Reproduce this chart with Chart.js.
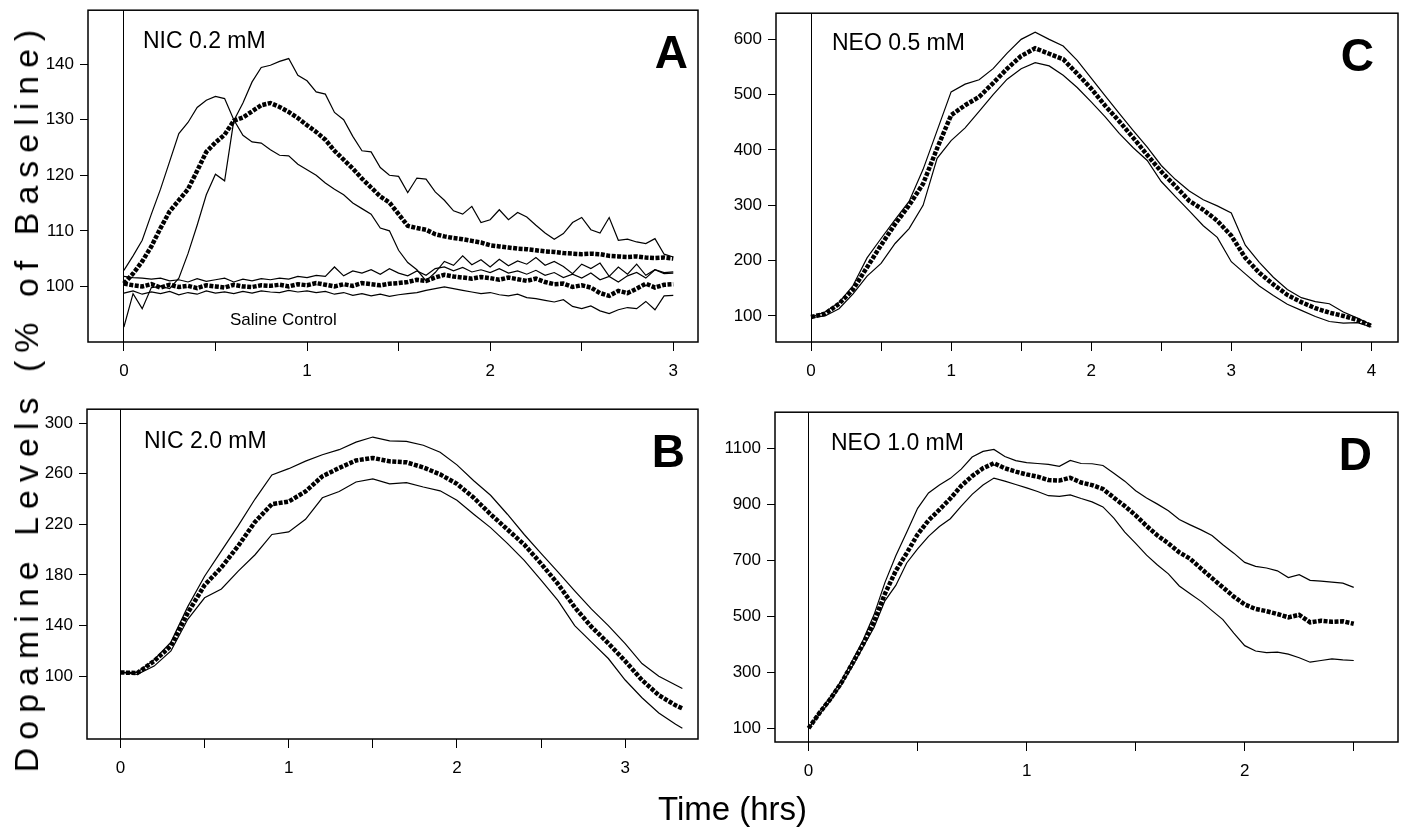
<!DOCTYPE html>
<html><head><meta charset="utf-8">
<script src="https://cdn.jsdelivr.net/npm/chart.js@4.4.0/dist/chart.umd.min.js"></script>
<style>
html,body{margin:0;padding:0;background:#fff;width:1404px;height:831px;overflow:hidden;position:relative;font-family:"Liberation Sans",Arial,sans-serif;}
canvas{position:absolute;}
.t{position:absolute;white-space:nowrap;color:#000;line-height:1;}
.cond{font-size:23px;}
.let{font-size:46px;font-weight:bold;text-align:right;}
</style></head><body>
<canvas id="cA"></canvas>
<canvas id="cB"></canvas>
<canvas id="cC"></canvas>
<canvas id="cD"></canvas>
<div class="t cond" style="left:143px;top:28.5px;">NIC 0.2 mM</div>
<div class="t cond" style="left:832px;top:30.5px;">NEO 0.5 mM</div>
<div class="t cond" style="left:144px;top:428.5px;">NIC 2.0 mM</div>
<div class="t cond" style="left:831px;top:430.5px;">NEO 1.0 mM</div>
<div class="t" style="left:230px;top:310.6px;font-size:17px;">Saline Control</div>
<div class="t let" style="right:716px;top:29px;">A</div>
<div class="t let" style="right:719px;top:428px;">B</div>
<div class="t let" style="right:30px;top:32px;">C</div>
<div class="t let" style="right:32px;top:431px;">D</div>
<div class="t" id="xtitle" style="left:658px;top:791.5px;font-size:33px;">Time (hrs)</div>
<div class="t" id="ytitle" style="left:26px;top:397px;font-size:34px;letter-spacing:8px;transform:translate(-50%,-50%) rotate(-90deg);">Dopamine Levels (% of Baseline)</div>
<script>
// ---------- Panel A: NIC 0.2 mM and saline control ----------
const tA = [0,0.05,0.1,0.15,0.2,0.25,0.3,0.35,0.4,0.45,0.5,0.55,0.6,0.65,0.7,0.75,0.8,0.85,0.9,0.95,1,1.05,1.1,1.15,1.2,1.25,1.3,1.35,1.4,1.45,1.5,1.55,1.6,1.65,1.7,1.75,1.8,1.85,1.9,1.95,2,2.05,2.1,2.15,2.2,2.25,2.3,2.35,2.4,2.45,2.5,2.55,2.6,2.65,2.7,2.75,2.8,2.85,2.9,2.95,3];
const nicEarly = [102.9,105.5,108.3,113.0,117.5,122.5,127.5,129.5,132.2,133.5,
  134.2,133.8,130.0,127.2,126.0,125.8,124.6,123.6,123.5,122.0,
  121.0,120.0,118.6,117.5,116.5,115.0,114.0,113.0,110.5,110.0,
  106.5,104.3,103.0,101.0,102.5,104.5,103.8,105.5,103.9,104.8,
  103.5,104.9,103.7,104.6,104.0,105.2,103.8,104.5,103.6,102.3,
  104.0,103.2,104.2,101.8,103.5,102.2,104.0,102.0,103.0,102.5,102.6];
const nicLate = [92.7,98.7,96.0,99.8,100.0,99.6,101.5,105.9,111.0,116.5,
  120.2,119.0,129.8,133.0,136.8,139.4,139.8,140.5,141.0,138.0,
  137.0,135.0,134.6,131.3,130.0,127.0,124.4,124.2,121.4,120.0,
  119.8,116.9,119.5,119.3,117.0,115.5,113.6,113.0,114.4,111.5,
  112.0,113.8,112.0,113.3,112.5,111.0,109.6,108.5,109.5,111.5,
  112.4,110.2,109.6,112.4,108.3,108.5,108.0,107.7,108.6,105.8,105.3];
const nicMean = [100.5,102.3,104.5,107.2,110.5,113.5,115.5,117.5,120.8,124.2,
  125.9,127.3,129.8,130.4,131.5,132.6,133.0,132.3,131.4,130.3,
  129.0,127.8,126.4,124.4,122.8,121.2,119.4,117.8,116.2,115.1,
  113.0,110.9,110.5,110.2,109.4,109.0,108.7,108.5,108.2,107.9,
  107.4,107.2,107.0,106.8,106.7,106.5,106.3,106.2,106.0,105.9,
  105.8,105.9,105.8,105.5,105.4,105.3,105.4,105.2,105.1,105.2,105.0];
const salMean = [100.5,100.2,100.0,100.4,99.8,100.3,99.9,100.1,99.7,100.2,
  100.0,99.8,100.3,100.0,99.9,100.2,100.1,100.3,100.0,100.4,
  100.2,100.6,100.3,100.0,100.4,100.1,100.6,100.4,100.2,100.5,
  100.6,100.8,101.2,101.0,101.6,102.1,101.8,101.6,101.4,101.7,
  101.5,101.2,101.6,101.3,101.0,101.4,100.8,100.4,100.5,99.9,
  100.2,99.8,98.8,98.3,99.2,98.8,99.6,100.5,99.8,100.3,100.4];
const salUpper = [101.8,101.6,101.5,101.3,101.5,101.0,101.2,100.8,101.4,100.9,
  101.2,101.5,100.8,101.3,101.0,101.4,101.2,101.5,101.3,101.8,
  101.6,102.0,101.8,103.5,101.9,102.8,102.4,103.0,102.2,103.2,
  102.4,101.9,102.8,102.0,103.2,103.5,102.8,103.4,102.6,103.0,
  102.5,103.2,102.4,102.8,102.2,102.9,102.0,102.5,101.6,102.2,
  101.5,102.4,101.2,101.8,100.8,101.9,102.5,101.5,103.0,102.3,102.4];
const salLower = [98.8,99.2,98.6,99.0,98.7,99.1,98.5,98.9,98.6,99.2,
  98.8,99.0,98.7,99.1,98.8,99.2,99.0,98.9,99.3,99.0,
  99.2,98.9,99.1,98.6,98.9,98.4,98.7,98.3,98.6,98.2,
  98.5,98.7,98.9,99.3,99.6,99.9,99.6,99.3,99.0,98.7,
  98.9,98.5,98.3,98.6,98.0,97.8,97.5,97.2,97.6,96.4,
  96.0,96.5,95.6,95.1,95.8,96.2,96.0,97.3,95.8,98.3,98.4];
const xTicksA = [0,0.5,1,1.5,2,2.5,3];
const yTicksA = [100,110,120,130,140];

// ---------- Panel B: NIC 2.0 mM ----------
const tB = [0,0.1,0.2,0.3,0.4,0.5,0.6,0.7,0.8,0.9,1,1.1,1.2,1.3,1.4,1.5,1.6,1.7,1.8,1.9,2,2.1,2.2,2.3,2.4,2.5,2.6,2.7,2.8,2.9,3,3.1,3.2,3.3,3.34];
const bMean = [103,102.5,112,124,150,172,186,203,222,236,238,246,258,264.6,270.5,272.5,269.8,269,265,259.5,252,241,228,216,204,189,173,154.5,139,126,112,97,85,77,74.6];
const bUpper = [103,103,113,127,155,179,199,219,240,259,264,270,275,279,285,289,286,285.5,282.5,277,267,254.5,243,228,212,197,182.5,167.5,153,140,125.7,110,100,93,90.3];
const bLower = [103,101.5,108,120,145,162,169,183,196,212,214,224,241,246,253.5,256,252,253,249.5,246.5,239,228,217.4,205,191.5,176,160,140,127,114,97,83,71,62,58.9];
const xTicksB = [0,0.5,1,1.5,2,2.5,3];
const yTicksB = [100,140,180,220,260,300];

// ---------- Panel C: NEO 0.5 mM ----------
const tC = [0,0.1,0.2,0.3,0.4,0.5,0.6,0.7,0.8,0.9,1,1.1,1.2,1.3,1.4,1.5,1.6,1.7,1.8,1.9,2,2.1,2.2,2.3,2.4,2.5,2.6,2.7,2.8,2.9,3,3.1,3.2,3.3,3.4,3.5,3.6,3.7,3.8,3.9,4];
const cMean = [98,104,122,148,188,228,266,300,339,403,463,481,496,521,547,570,584,574,564,538,511,480,452,422,391,361,335,308,292,272,245,205,178,157,138,125,114,106,100,93,82];
const cUpper = [98,107,124,155,205,240,274,307,365,435,505,519,527,547,575,600,613,600,588,562,530,498,466,435,405,372,347,326,310,299,286,228,197,170,148,133,126,122,107,96,84];
const cLower = [97,100,113,140,172,195,231,258,300,385,417,440,470,500,528,547,558,552,535,513,487,460,430,404,381,343,316,290,263,242,198,176,154,137,121,110,99,90,87,88,80];
const xTicksC = [0,0.5,1,1.5,2,2.5,3,3.5,4];
const yTicksC = [100,200,300,400,500,600];

// ---------- Panel D: NEO 1.0 mM ----------
const tD = [0,0.05,0.1,0.15,0.2,0.25,0.3,0.35,0.4,0.45,0.5,0.55,0.6,0.65,0.7,0.75,0.8,0.85,0.9,0.95,1,1.05,1.1,1.15,1.2,1.25,1.3,1.35,1.4,1.45,1.5,1.55,1.6,1.65,1.7,1.75,1.8,1.85,1.9,1.95,2,2.05,2.1,2.15,2.2,2.25,2.3,2.35,2.4,2.45,2.5];
const dMean = [100,155,205,262,330,400,480,580,662,725,
  792,842,880,920,965,1000,1028,1046,1028,1016,
  1006,998,986,984,994,977,968,954,923,893,
  860,822,788,760,728,705,670,636,603,570,
  542,526,518,508,496,505,478,484,480,482,473];
const dUpper = [100,160,212,270,340,415,505,620,716,800,
  885,940,968,992,1025,1068,1088,1095,1070,1055,
  1048,1045,1042,1035,1056,1045,1044,1038,1010,982,
  948,922,900,876,845,826,808,788,755,725,
  692,678,672,662,638,648,628,625,622,618,603];
const dLower = [100,150,198,255,320,390,460,555,610,690,
  740,785,820,848,893,935,968,993,982,970,
  958,945,930,928,933,920,908,890,850,800,
  760,718,683,651,608,580,553,520,488,440,
  395,376,370,372,365,352,336,342,348,344,342];
const xTicksD = [0,0.5,1,1.5,2,2.5];
const yTicksD = [100,300,500,700,900,1100];

const FONT = '"Liberation Sans", Arial, sans-serif';
const boxPlugin = {
  id: 'box',
  afterDraw(chart) {
    const {ctx, chartArea: a} = chart;
    ctx.save();
    ctx.strokeStyle = '#000';
    ctx.lineWidth = 1.5;
    ctx.strokeRect(a.left, a.top, a.right - a.left, a.bottom - a.top);
    ctx.restore();
  }
};
function pts(ts, vs) { return ts.map((t, i) => ({x: t, y: vs[i]})); }

function makePanel(id, box, xr, yr, xTicks, yTicks, series) {
  const padL = 75, padT = 15, padR = 15, padB = 50;
  const cv = document.getElementById(id);
  cv.width = box.r - box.l + padL + padR;
  cv.height = box.b - box.t + padT + padB;
  cv.style.left = (box.l - padL) + 'px';
  cv.style.top = (box.t - padT) + 'px';
  new Chart(cv, {
    type: 'line',
    data: {datasets: series.map(s => ({
      data: pts(s.t, s.v),
      borderColor: '#000',
      borderWidth: s.mean ? 4.5 : 1.2,
      borderDash: s.mean ? [4, 1.5] : [],
      pointRadius: 0, tension: 0, fill: false
    }))},
    options: {
      responsive: false, animation: false, events: [],
      layout: {padding: {left: 0, top: padT, right: padR, bottom: 0}},
      plugins: {legend: {display: false}, tooltip: {enabled: false}},
      scales: {
        x: {
          type: 'linear', min: xr[0], max: xr[1],
          afterBuildTicks: s => { s.ticks = xTicks.map(v => ({value: v})); },
          afterFit: s => { s.height = padB; },
          grid: {drawOnChartArea: true,
                 color: c => (c.tick && c.tick.value === 0) ? '#000' : 'rgba(0,0,0,0)',
                 tickColor: '#000', tickLength: 9, lineWidth: 1},
          border: {display: false},
          ticks: {autoSkip: false, maxRotation: 0, padding: 10, color: '#000',
                  font: {family: FONT, size: 17},
                  callback: v => Number.isInteger(v) ? String(v) : ''}
        },
        y: {
          type: 'linear', min: yr[0], max: yr[1],
          afterBuildTicks: s => { s.ticks = yTicks.map(v => ({value: v})); },
          afterFit: s => { s.width = padL; },
          grid: {drawOnChartArea: false, color: '#000', tickLength: 8},
          border: {display: false},
          ticks: {padding: 6, color: '#000', font: {family: FONT, size: 17},
                  callback: v => String(v)}
        }
      }
    },
    plugins: [boxPlugin]
  });
}

makePanel('cA', {l: 88, t: 9, r: 698, b: 342}, [-0.196, 3.135], [90, 149.7], xTicksA, yTicksA, [
  {t: tA, v: nicEarly}, {t: tA, v: nicLate}, {t: tA, v: salUpper}, {t: tA, v: salLower},
  {t: tA, v: nicMean, mean: true}, {t: tA, v: salMean, mean: true}
]);
makePanel('cB', {l: 87, t: 408, r: 698, b: 739}, [-0.199, 3.433], [50.4, 311], xTicksB, yTicksB, [
  {t: tB, v: bUpper}, {t: tB, v: bLower}, {t: tB, v: bMean, mean: true}
]);
makePanel('cC', {l: 776, t: 12, r: 1398, b: 342}, [-0.25, 4.19], [52.9, 647.3], xTicksC, yTicksC, [
  {t: tC, v: cUpper}, {t: tC, v: cLower}, {t: tC, v: cMean, mean: true}
]);
makePanel('cD', {l: 775, t: 411, r: 1398, b: 742}, [-0.154, 2.703], [51.2, 1228], xTicksD, yTicksD, [
  {t: tD, v: dUpper}, {t: tD, v: dLower}, {t: tD, v: dMean, mean: true}
]);
</script>
</body></html>
